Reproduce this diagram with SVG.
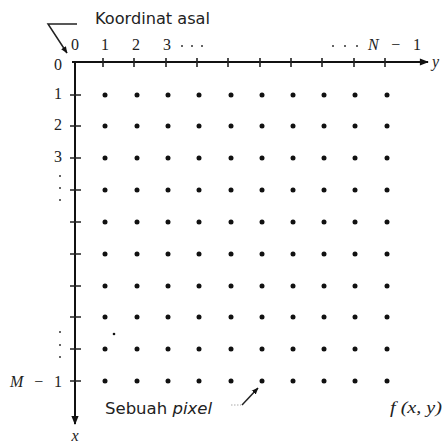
<svg xmlns="http://www.w3.org/2000/svg" width="446" height="446" viewBox="0 0 446 446">
<defs>
<style>
.ax{stroke:#111;stroke-width:2;fill:none}
.tk{stroke:#222;stroke-width:1.6}
.num{font-family:"Liberation Serif",serif;font-size:16px;fill:#222}
.it{font-style:italic}
.sans{font-family:"DejaVu Sans",sans-serif;font-size:16px;fill:#222}
.dot{fill:#111}
.ld{fill:#333}
</style>
<marker id="ah" viewBox="0 0 10 10" refX="9" refY="5" markerWidth="7" markerHeight="7" markerUnits="userSpaceOnUse" orient="auto"><path d="M0,1 L10,5 L0,9 Z" fill="#111"/></marker>
<marker id="ah2" viewBox="0 0 10 10" refX="9" refY="5" markerWidth="10" markerHeight="9" markerUnits="userSpaceOnUse" orient="auto"><path d="M0,1 L10,5 L0,9 Z" fill="#111"/></marker>
</defs>
<rect width="446" height="446" fill="#fff"/>
<g id="connectors">
<line class="ax" x1="72" y1="62" x2="428" y2="62" marker-end="url(#ah2)"/>
<line class="ax" x1="75" y1="62" x2="75" y2="424" marker-end="url(#ah2)"/>
<path d="M77,24 H48 L67,53" stroke="#222" stroke-width="1.5" fill="none" marker-end="url(#ah)"/>
<line x1="231" y1="405" x2="241" y2="405" stroke="#aaa" stroke-width="1" stroke-dasharray="1.5,1.5"/>
<line x1="242" y1="405" x2="258" y2="388" stroke="#222" stroke-width="1.5" marker-end="url(#ah)"/>
</g>
<g id="ticks">
<path class="tk" d="M103,58V67M134,58V67M166,58V67M197,58V67M228,58V67M260,58V67M291,58V67M322,58V67M354,58V67M385,58V67"/>
<path class="tk" d="M70,95H81M70,126H81M70,158H81M70,190H81M70,222H81M70,254H81M70,286H81M70,317H81M70,349H81M70,381H81"/>
</g>
<g id="pixels">
<g class="dot">
<circle cx="105" cy="95" r="2.5"/><circle cx="137" cy="95" r="2.5"/><circle cx="168" cy="95" r="2.5"/><circle cx="199" cy="95" r="2.5"/><circle cx="231" cy="95" r="2.5"/><circle cx="262" cy="95" r="2.5"/><circle cx="293" cy="95" r="2.5"/><circle cx="324" cy="95" r="2.5"/><circle cx="355" cy="95" r="2.5"/><circle cx="387" cy="95" r="2.5"/>
<circle cx="105" cy="126" r="2.5"/><circle cx="137" cy="126" r="2.5"/><circle cx="168" cy="126" r="2.5"/><circle cx="199" cy="126" r="2.5"/><circle cx="231" cy="126" r="2.5"/><circle cx="262" cy="126" r="2.5"/><circle cx="293" cy="126" r="2.5"/><circle cx="324" cy="126" r="2.5"/><circle cx="355" cy="126" r="2.5"/><circle cx="387" cy="126" r="2.5"/>
<circle cx="105" cy="158" r="2.5"/><circle cx="137" cy="158" r="2.5"/><circle cx="168" cy="158" r="2.5"/><circle cx="199" cy="158" r="2.5"/><circle cx="231" cy="158" r="2.5"/><circle cx="262" cy="158" r="2.5"/><circle cx="293" cy="158" r="2.5"/><circle cx="324" cy="158" r="2.5"/><circle cx="355" cy="158" r="2.5"/><circle cx="387" cy="158" r="2.5"/>
<circle cx="105" cy="190" r="2.5"/><circle cx="137" cy="190" r="2.5"/><circle cx="168" cy="190" r="2.5"/><circle cx="199" cy="190" r="2.5"/><circle cx="231" cy="190" r="2.5"/><circle cx="262" cy="190" r="2.5"/><circle cx="293" cy="190" r="2.5"/><circle cx="324" cy="190" r="2.5"/><circle cx="355" cy="190" r="2.5"/><circle cx="387" cy="190" r="2.5"/>
<circle cx="105" cy="222" r="2.5"/><circle cx="137" cy="222" r="2.5"/><circle cx="168" cy="222" r="2.5"/><circle cx="199" cy="222" r="2.5"/><circle cx="231" cy="222" r="2.5"/><circle cx="262" cy="222" r="2.5"/><circle cx="293" cy="222" r="2.5"/><circle cx="324" cy="222" r="2.5"/><circle cx="355" cy="222" r="2.5"/><circle cx="387" cy="222" r="2.5"/>
<circle cx="105" cy="254" r="2.5"/><circle cx="137" cy="254" r="2.5"/><circle cx="168" cy="254" r="2.5"/><circle cx="199" cy="254" r="2.5"/><circle cx="231" cy="254" r="2.5"/><circle cx="262" cy="254" r="2.5"/><circle cx="293" cy="254" r="2.5"/><circle cx="324" cy="254" r="2.5"/><circle cx="355" cy="254" r="2.5"/><circle cx="387" cy="254" r="2.5"/>
<circle cx="105" cy="286" r="2.5"/><circle cx="137" cy="286" r="2.5"/><circle cx="168" cy="286" r="2.5"/><circle cx="199" cy="286" r="2.5"/><circle cx="231" cy="286" r="2.5"/><circle cx="262" cy="286" r="2.5"/><circle cx="293" cy="286" r="2.5"/><circle cx="324" cy="286" r="2.5"/><circle cx="355" cy="286" r="2.5"/><circle cx="387" cy="286" r="2.5"/>
<circle cx="105" cy="317" r="2.5"/><circle cx="137" cy="317" r="2.5"/><circle cx="168" cy="317" r="2.5"/><circle cx="199" cy="317" r="2.5"/><circle cx="231" cy="317" r="2.5"/><circle cx="262" cy="317" r="2.5"/><circle cx="293" cy="317" r="2.5"/><circle cx="324" cy="317" r="2.5"/><circle cx="355" cy="317" r="2.5"/><circle cx="387" cy="317" r="2.5"/>
<circle cx="105" cy="349" r="2.5"/><circle cx="137" cy="349" r="2.5"/><circle cx="168" cy="349" r="2.5"/><circle cx="199" cy="349" r="2.5"/><circle cx="231" cy="349" r="2.5"/><circle cx="262" cy="349" r="2.5"/><circle cx="293" cy="349" r="2.5"/><circle cx="324" cy="349" r="2.5"/><circle cx="355" cy="349" r="2.5"/><circle cx="387" cy="349" r="2.5"/>
<circle cx="105" cy="381" r="2.5"/><circle cx="137" cy="381" r="2.5"/><circle cx="168" cy="381" r="2.5"/><circle cx="199" cy="381" r="2.5"/><circle cx="231" cy="381" r="2.5"/><circle cx="262" cy="381" r="2.5"/><circle cx="293" cy="381" r="2.5"/><circle cx="324" cy="381" r="2.5"/><circle cx="355" cy="381" r="2.5"/><circle cx="387" cy="381" r="2.5"/>
<circle cx="114" cy="334" r="1.3"/>
</g>
</g>
<g id="col-labels">
<text class="num" x="75" y="50" text-anchor="middle">0</text>
<text class="num" x="105" y="50" text-anchor="middle">1</text>
<text class="num" x="136" y="50" text-anchor="middle">2</text>
<text class="num" x="167" y="50" text-anchor="middle">3</text>
<g class="ld"><circle cx="182" cy="46" r="1"/><circle cx="192" cy="46" r="1"/><circle cx="202" cy="46" r="1"/><circle cx="333" cy="46" r="1"/><circle cx="345" cy="46" r="1"/><circle cx="357" cy="46" r="1"/></g>
<text class="num" x="368" y="50" textLength="53" lengthAdjust="spacing"><tspan class="it">N</tspan> − 1</text>
<text class="num it" x="432" y="67">y</text>
</g>
<g id="row-labels">
<text class="num" x="62" y="70" text-anchor="end">0</text>
<text class="num" x="62" y="99" text-anchor="end">1</text>
<text class="num" x="62" y="130" text-anchor="end">2</text>
<text class="num" x="62" y="162" text-anchor="end">3</text>
<g class="ld"><circle cx="60" cy="176" r="1"/><circle cx="60" cy="188" r="1"/><circle cx="60" cy="200" r="1"/><circle cx="60" cy="332" r="1"/><circle cx="60" cy="345" r="1"/><circle cx="60" cy="357" r="1"/></g>
<text class="num" x="10" y="387" textLength="52" lengthAdjust="spacing"><tspan class="it">M</tspan> − 1</text>
<text class="num it" x="75" y="441" text-anchor="middle">x</text>
</g>
<g id="origin-label"><text class="sans" x="95" y="24" textLength="115" lengthAdjust="spacingAndGlyphs">Koordinat asal</text></g>
<g id="pixel-label"><text class="sans" x="105" y="414" textLength="107" lengthAdjust="spacingAndGlyphs">Sebuah <tspan font-style="italic">pixel</tspan></text></g>
<g id="f-label"><text class="num it" x="390" y="413" textLength="52" lengthAdjust="spacingAndGlyphs">f (x, y)</text></g>
</svg>
